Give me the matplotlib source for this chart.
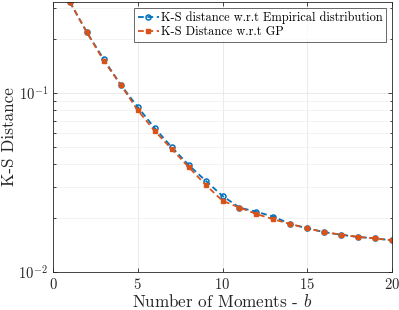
import matplotlib
matplotlib.use("Agg")
import matplotlib.pyplot as plt
from matplotlib.ticker import LogLocator, NullFormatter

plt.rcParams['font.family'] = 'serif'
plt.rcParams['font.serif'] = ['cmr10']
plt.rcParams['mathtext.fontset'] = 'cm'
plt.rcParams['axes.formatter.use_mathtext'] = True

b = list(range(1, 21))
ks_empirical = [0.322, 0.218, 0.154, 0.111, 0.0835, 0.0637, 0.0499, 0.0396, 0.0324, 0.0266,
                0.0229, 0.0217, 0.0204, 0.01854, 0.01754, 0.0167, 0.01615, 0.0157, 0.0154, 0.01503]
ks_gp = [0.322, 0.218, 0.151, 0.111, 0.0800, 0.0614, 0.0487, 0.0386, 0.0307, 0.0250,
         0.0229, 0.0211, 0.0197, 0.01854, 0.01754, 0.0167, 0.01615, 0.0157, 0.0154, 0.01503]

blue = '#0072BD'
orange = '#D95319'

fig = plt.figure(figsize=(3.99, 3.10), dpi=100)
ax = fig.add_axes([0.1328, 0.1226, 0.8497, 0.871])

ax.plot(b, ks_empirical, '--o', color=blue, lw=1.3, ms=3.6, mfc='none', mew=1.1,
        dashes=(3.2, 2.0), label='K-S distance w.r.t Empirical distribution')
ax.plot(b, ks_gp, '--s', color=orange, lw=1.3, ms=3.3, mfc=orange, mew=1.0,
        dashes=(3.2, 2.0), label='K-S Distance w.r.t GP')

ax.set_yscale('log')
ax.set_xlim(0, 20)
ax.set_ylim(0.01, 0.3224)
ax.set_xticks([0, 5, 10, 15, 20])
ax.yaxis.set_major_locator(LogLocator(base=10, numticks=10))
ax.yaxis.set_minor_locator(LogLocator(base=10, subs=range(2, 10), numticks=20))
ax.yaxis.set_minor_formatter(NullFormatter())

ax.grid(True, which='major', color='#e6e6e6', lw=0.6)
ax.grid(True, which='minor', axis='y', color='#efefef', lw=0.5)
ax.set_axisbelow(True)

ax.tick_params(direction='in', which='both', top=True, right=True, labelsize=10.5,
               color='#262626', labelcolor='#262626', width=0.6)
ax.tick_params(which='major', length=3)
ax.tick_params(which='minor', length=1.8)
for s in ax.spines.values():
    s.set_color('#262626')
    s.set_linewidth(0.6)

ax.set_xlabel('Number of Moments - $b$', fontsize=12.3, labelpad=1, color='#262626')
ax.set_ylabel('K-S Distance', fontsize=12.3, labelpad=1, color='#262626')

leg = ax.legend(loc='upper right', fontsize=8.9, frameon=True, fancybox=False,
                edgecolor='#262626', borderpad=0.3, handlelength=1.7,
                handletextpad=0.2, labelspacing=0.2, borderaxespad=0.45)
leg.get_frame().set_linewidth(0.6)

fig.savefig('out.png', dpi=100)
